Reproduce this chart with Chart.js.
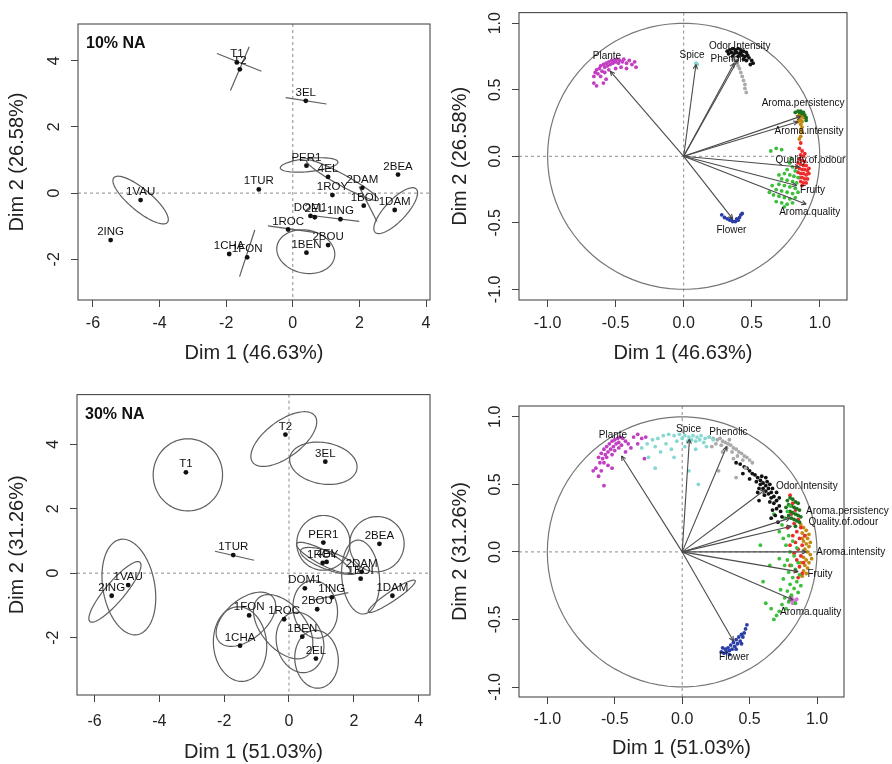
<!DOCTYPE html>
<html>
<head>
<meta charset="utf-8">
<script src="https://cdn.jsdelivr.net/npm/chart.js@4.4.1/dist/chart.umd.min.js"></script>
<style>
  body { margin: 0; background: #fff; width: 892px; height: 764px; position: relative; overflow: hidden; }
  .panel { position: absolute; width: 446px; height: 382px; }
</style>
</head>
<body>
<div class="panel" style="left:0;top:0"><canvas id="ind10" width="446" height="382"></canvas></div>
<div class="panel" style="left:446px;top:0"><canvas id="var10" width="446" height="382"></canvas></div>
<div class="panel" style="left:0;top:382px"><canvas id="ind30" width="446" height="382"></canvas></div>
<div class="panel" style="left:446px;top:382px"><canvas id="var30" width="446" height="382"></canvas></div>
<script>
const FONT = '"Liberation Sans", Arial, Helvetica, sans-serif';

// ---------- tick labels
const indXTicks = [-6, -4, -2, 0, 2, 4];
const indYTicks = [-2, 0, 2, 4];
const corTicks = [-1, -0.5, 0, 0.5, 1];

// ---------- individuals, 10% NA
const ind10Names = ['T1','T2','3EL','PER1','4EL','2DAM','2BEA','1ROY','1BOI','1DAM','1TUR','1VAU','2ING','DOM1','2EL','1ING','1ROC','2BOU','1BEN','1CHA','1FON'];
const ind10X = [-1.68, -1.59, 0.39, 0.41, 1.06, 2.09, 3.16, 1.19, 2.13, 3.06, -1.02, -4.57, -5.47, 0.53, 0.66, 1.43, -0.14, 1.06, 0.41, -1.91, -1.37];
const ind10Y = [3.95, 3.74, 2.79, 0.83, 0.49, 0.16, 0.56, -0.06, -0.38, -0.51, 0.11, -0.21, -1.42, -0.69, -0.73, -0.79, -1.10, -1.57, -1.80, -1.84, -1.94];
// confidence ellipses: centre x, centre y, semi axis a, semi axis b, angle (deg)
const ell10 = [
  [-1.61, 3.95, 0.72, 0, -22],
  [-1.59, 3.76, 0.72, 0, 67],
  [0.40, 2.79, 0.62, 0, -9],
  [-4.57, -0.21, 1.05, 0.33, -40],
  [0.49, 0.85, 0.87, 0.20, 6],
  [1.49, 0.39, 1.23, 0.17, -29],
  [2.26, -0.33, 0.59, 0, -63],
  [3.09, -0.53, 0.90, 0.32, 47],
  [1.25, -0.76, 0.75, 0, -7],
  [-0.05, -1.09, 0.70, 0, -8],
  [0.39, -1.77, 0.88, 0.65, -12],
  [-1.37, -1.82, 0.74, 0, 72]
];

// ---------- individuals, 30% NA
const ind30Names = ['T2','3EL','T1','PER1','2BEA','1TUR','1ROY','4EL','2DAM','1BOI','1VAU','2ING','DOM1','1ING','1DAM','2BOU','1FON','1ROC','1BEN','1CHA','2EL'];
const ind30X = [-0.11, 1.12, -3.18, 1.06, 2.79, -1.72, 1.04, 1.16, 2.24, 2.21, -4.96, -5.47, 0.49, 1.32, 3.19, 0.87, -1.23, -0.15, 0.41, -1.51, 0.83];
const ind30Y = [4.30, 3.46, 3.13, 0.95, 0.91, 0.56, 0.32, 0.35, 0.04, -0.17, -0.37, -0.70, -0.47, -0.75, -0.70, -1.12, -1.31, -1.43, -1.97, -2.25, -2.65];
const ell30 = [
  [-3.12, 3.05, 1.07, 1.12, 0],
  [-0.16, 4.16, 1.20, 0.56, 37],
  [1.06, 3.41, 1.05, 0.64, -10],
  [-1.68, 0.54, 0.62, 0, -13],
  [-4.94, -0.43, 1.50, 0.80, 100],
  [-5.37, -0.58, 1.20, 0.30, 50],
  [1.06, 0.94, 0.85, 0.82, 80],
  [2.71, 0.90, 0.86, 0.84, 70],
  [1.06, 0.48, 0.93, 0.22, -28],
  [1.25, 0.38, 0.95, 0.28, -20],
  [2.21, -0.12, 1.15, 0.58, 95],
  [3.17, -0.72, 0.87, 0.15, 34],
  [1.29, -0.72, 0.55, 0, 12],
  [0.81, -1.12, 0.90, 0.68, 100],
  [-1.33, -1.43, 1.08, 0.62, 40],
  [-0.18, -1.66, 1.17, 0.68, -50],
  [-1.51, -2.20, 1.16, 0.82, 95],
  [0.34, -2.15, 0.95, 0.72, 105],
  [0.85, -2.67, 0.90, 0.67, 95]
];

// ---------- variables
const varNames = ['Plante','Spice','Phenolic','Odor.Intensity','Aroma.persistency','Aroma.intensity','Quality.of.odour','Fruity','Aroma.quality','Flower'];
const var10X = [-0.54, 0.09, 0.37, 0.40, 0.86, 0.84, 0.85, 0.83, 0.90, 0.36];
const var10Y = [0.64, 0.69, 0.70, 0.73, 0.30, 0.26, -0.08, -0.22, -0.36, -0.47];
const lab10X = [-0.564, 0.061, 0.338, 0.412, 0.877, 0.921, 0.932, 0.947, 0.926, 0.351];
const lab10Y = [0.749, 0.762, 0.730, 0.828, 0.396, 0.185, -0.027, -0.254, -0.423, -0.555];
const var30X = [-0.45, 0.054, 0.33, 0.615, 0.80, 0.92, 0.81, 0.86, 0.82, 0.38];
const var30Y = [0.71, 0.835, 0.78, 0.46, 0.25, 0.00, 0.19, -0.146, -0.355, -0.66];
const lab30X = [-0.513, 0.047, 0.343, 0.924, 1.225, 1.25, 1.195, 1.022, 0.953, 0.385];
const lab30Y = [0.861, 0.911, 0.884, 0.484, 0.299, 0.0, 0.217, -0.165, -0.449, -0.78];

// bootstrap clouds, 10% NA
const c10Plante = [[-0.66,0.60],[-0.65,0.63],[-0.64,0.65],[-0.63,0.62],[-0.62,0.66],[-0.61,0.68],[-0.60,0.64],[-0.59,0.69],[-0.58,0.67],[-0.57,0.70],[-0.56,0.68],[-0.55,0.71],[-0.54,0.69],[-0.53,0.72],[-0.52,0.70],[-0.51,0.72],[-0.50,0.71],[-0.49,0.73],[-0.48,0.70],[-0.47,0.72],[-0.45,0.71],[-0.44,0.73],[-0.42,0.70],[-0.40,0.72],[-0.38,0.69],[-0.36,0.71],[-0.35,0.67],[-0.61,0.60],[-0.58,0.63],[-0.55,0.65],[-0.66,0.55],[-0.64,0.53],[-0.59,0.55],[-0.57,0.58],[-0.50,0.66],[-0.46,0.67],[-0.42,0.66]];
const c10Spice = [[0.09,0.70],[0.10,0.69]];
const c10Phenolic = [[0.38,0.70],[0.40,0.68],[0.41,0.66],[0.42,0.63],[0.43,0.60],[0.44,0.57],[0.45,0.54],[0.45,0.51],[0.46,0.48],[0.39,0.72],[0.36,0.73]];
const c10Odor = [[0.32,0.79],[0.34,0.80],[0.36,0.81],[0.38,0.80],[0.40,0.81],[0.42,0.80],[0.44,0.79],[0.46,0.78],[0.47,0.76],[0.48,0.74],[0.50,0.72],[0.51,0.70],[0.35,0.78],[0.37,0.77],[0.39,0.78],[0.41,0.77],[0.43,0.76],[0.45,0.75],[0.33,0.77],[0.36,0.75],[0.40,0.75],[0.44,0.73],[0.46,0.72],[0.49,0.69],[0.38,0.79],[0.42,0.78]];
const c10Persist = [[0.82,0.33],[0.84,0.34],[0.86,0.34],[0.88,0.33],[0.89,0.31],[0.90,0.29],[0.90,0.27],[0.85,0.33],[0.87,0.32]];
const c10Intens = [[0.84,0.30],[0.85,0.31],[0.86,0.32],[0.87,0.30],[0.85,0.28],[0.86,0.27],[0.87,0.26],[0.86,0.24],[0.87,0.22],[0.86,0.20],[0.87,0.18],[0.86,0.15],[0.85,0.13],[0.88,0.29],[0.84,0.26]];
const c10Quality = [[0.86,0.10],[0.85,0.06],[0.87,0.04],[0.86,0.01],[0.88,0.00],[0.85,-0.02],[0.87,-0.03],[0.89,-0.04],[0.84,-0.05],[0.86,-0.06],[0.88,-0.07],[0.90,-0.07],[0.85,-0.09],[0.87,-0.10],[0.89,-0.10],[0.91,-0.11],[0.84,-0.12],[0.86,-0.13],[0.88,-0.13],[0.90,-0.14],[0.92,-0.13],[0.85,-0.16],[0.87,-0.16],[0.89,-0.17],[0.91,-0.17],[0.86,-0.19],[0.88,-0.20],[0.90,-0.20],[0.87,-0.22],[0.83,-0.08],[0.92,-0.09],[0.89,0.02]];
const c10Fruity = [[0.68,0.06],[0.72,0.05],[0.64,0.04],[0.78,-0.05],[0.80,-0.08],[0.76,-0.10],[0.82,-0.11],[0.74,-0.13],[0.78,-0.14],[0.81,-0.15],[0.72,-0.17],[0.76,-0.18],[0.80,-0.19],[0.83,-0.20],[0.70,-0.21],[0.74,-0.22],[0.78,-0.23],[0.82,-0.24],[0.68,-0.25],[0.72,-0.26],[0.76,-0.27],[0.80,-0.28],[0.84,-0.27],[0.66,-0.29],[0.70,-0.30],[0.74,-0.31],[0.78,-0.32],[0.82,-0.31],[0.68,-0.34],[0.72,-0.35],[0.76,-0.36],[0.80,-0.35],[0.65,-0.22],[0.79,-0.02],[0.84,-0.16],[0.70,-0.14],[0.74,-0.38],[0.63,-0.27]];
const c10Flower = [[0.28,-0.44],[0.30,-0.46],[0.32,-0.47],[0.34,-0.48],[0.36,-0.49],[0.38,-0.49],[0.40,-0.48],[0.41,-0.46],[0.42,-0.44],[0.43,-0.43],[0.35,-0.47],[0.39,-0.47]];

// bootstrap clouds, 30% NA
const c30Plante = [[-0.62,0.70],[-0.60,0.73],[-0.58,0.76],[-0.56,0.78],[-0.54,0.80],[-0.52,0.82],[-0.50,0.83],[-0.48,0.84],[-0.46,0.85],[-0.44,0.84],[-0.42,0.82],[-0.59,0.69],[-0.57,0.72],[-0.55,0.74],[-0.53,0.76],[-0.51,0.78],[-0.49,0.80],[-0.47,0.81],[-0.45,0.79],[-0.56,0.70],[-0.52,0.72],[-0.50,0.75],[-0.47,0.77],[-0.61,0.66],[-0.58,0.66],[-0.64,0.62],[-0.66,0.60],[-0.60,0.60],[-0.55,0.64],[-0.62,0.56],[-0.52,0.62],[-0.58,0.49],[-0.40,0.80],[-0.36,0.85],[-0.33,0.87],[-0.30,0.84],[-0.27,0.85],[-0.38,0.77],[-0.33,0.80],[-0.42,0.74],[-0.28,0.69]];
const c30Spice = [[-0.30,0.77],[-0.26,0.80],[-0.22,0.83],[-0.18,0.84],[-0.14,0.86],[-0.10,0.87],[-0.06,0.86],[-0.02,0.87],[0.02,0.86],[0.05,0.85],[0.08,0.86],[0.11,0.85],[0.14,0.86],[0.17,0.84],[0.20,0.85],[0.23,0.83],[-0.20,0.78],[-0.12,0.80],[-0.04,0.82],[0.00,0.84],[0.04,0.82],[0.07,0.83],[0.10,0.82],[0.13,0.83],[0.16,0.81],[-0.08,0.76],[-0.16,0.74],[0.02,0.78],[-0.25,0.70],[0.10,0.76],[-0.06,0.70],[0.18,0.78],[0.05,0.60],[-0.20,0.62],[0.12,0.50]];
const c30Phenolic = [[0.20,0.85],[0.23,0.84],[0.26,0.83],[0.28,0.84],[0.30,0.82],[0.32,0.81],[0.34,0.80],[0.36,0.79],[0.38,0.77],[0.40,0.76],[0.42,0.74],[0.44,0.73],[0.46,0.71],[0.48,0.70],[0.50,0.68],[0.52,0.66],[0.25,0.80],[0.29,0.79],[0.33,0.77],[0.37,0.74],[0.41,0.71],[0.45,0.68],[0.30,0.74],[0.38,0.69],[0.22,0.78],[0.35,0.83],[0.27,0.60],[0.40,0.55],[0.47,0.62]];
const c30Odor = [[0.40,0.66],[0.43,0.65],[0.46,0.63],[0.48,0.62],[0.50,0.60],[0.52,0.58],[0.54,0.57],[0.56,0.55],[0.58,0.53],[0.60,0.51],[0.62,0.49],[0.64,0.47],[0.66,0.44],[0.68,0.41],[0.70,0.38],[0.72,0.34],[0.73,0.30],[0.74,0.26],[0.55,0.52],[0.58,0.50],[0.60,0.47],[0.62,0.45],[0.64,0.43],[0.66,0.40],[0.68,0.36],[0.70,0.32],[0.59,0.56],[0.63,0.52],[0.67,0.47],[0.70,0.44],[0.57,0.47],[0.61,0.42],[0.65,0.37],[0.69,0.27],[0.66,0.25],[0.71,0.22],[0.50,0.54],[0.45,0.58],[0.62,0.55],[0.65,0.50],[0.72,0.40],[0.57,0.38],[0.67,0.31],[0.56,0.44]];
const c30Persist = [[0.78,0.38],[0.80,0.40],[0.82,0.39],[0.84,0.37],[0.86,0.36],[0.79,0.35],[0.81,0.34],[0.83,0.33],[0.85,0.32],[0.87,0.31],[0.80,0.30],[0.82,0.29],[0.84,0.28],[0.86,0.27],[0.88,0.26],[0.81,0.25],[0.83,0.24],[0.85,0.23],[0.87,0.22],[0.84,0.19],[0.77,0.33],[0.79,0.27]];
const c30Quality = [[0.80,0.42],[0.82,0.36],[0.84,0.31],[0.81,0.28],[0.86,0.24],[0.83,0.21],[0.88,0.18],[0.85,0.15],[0.82,0.12],[0.87,0.10],[0.84,0.07],[0.89,0.05],[0.86,0.02],[0.83,-0.01],[0.88,-0.03],[0.85,-0.06],[0.90,-0.08],[0.87,-0.11],[0.84,-0.14],[0.89,-0.16],[0.86,-0.19],[0.80,0.05],[0.78,0.18],[0.91,0.12],[0.80,-0.10]];
const c30Intens = [[0.88,0.20],[0.90,0.18],[0.92,0.16],[0.89,0.14],[0.91,0.12],[0.93,0.10],[0.90,0.08],[0.92,0.06],[0.94,0.04],[0.91,0.02],[0.93,0.00],[0.95,-0.02],[0.90,-0.04],[0.92,-0.06],[0.94,-0.08],[0.91,-0.10],[0.93,-0.12],[0.90,-0.14],[0.92,-0.16],[0.89,-0.18],[0.94,0.13],[0.95,0.07],[0.96,-0.05],[0.89,0.10],[0.88,-0.08]];
const c30Fruity = [[0.80,0.34],[0.78,0.30],[0.76,0.25],[0.74,0.20],[0.72,0.15],[0.79,0.12],[0.82,0.08],[0.77,0.05],[0.85,0.03],[0.80,0.00],[0.83,-0.03],[0.78,-0.06],[0.86,-0.08],[0.81,-0.10],[0.84,-0.13],[0.79,-0.15],[0.87,-0.17],[0.82,-0.19],[0.85,-0.22],[0.80,-0.24],[0.83,-0.27],[0.78,-0.29],[0.81,-0.32],[0.76,-0.34],[0.79,-0.37],[0.74,-0.39],[0.77,-0.42],[0.72,-0.44],[0.70,-0.47],[0.68,-0.50],[0.66,-0.42],[0.62,-0.38],[0.60,-0.22],[0.65,-0.10],[0.58,0.05],[0.68,0.28],[0.70,0.38],[0.75,-0.20],[0.73,-0.28],[0.76,-0.10],[0.88,-0.25],[0.86,-0.30],[0.84,-0.38],[0.75,0.10],[0.72,-0.05]];
const c30AromaQ = [[0.80,-0.34],[0.81,-0.36],[0.82,-0.35],[0.83,-0.37],[0.84,-0.36],[0.82,-0.38],[0.85,-0.35],[0.81,-0.33]];
const c30Flower = [[0.29,-0.74],[0.31,-0.75],[0.33,-0.74],[0.35,-0.73],[0.37,-0.72],[0.39,-0.70],[0.41,-0.68],[0.43,-0.66],[0.45,-0.63],[0.46,-0.60],[0.47,-0.57],[0.48,-0.54],[0.32,-0.72],[0.34,-0.71],[0.36,-0.69],[0.38,-0.67],[0.40,-0.65],[0.42,-0.63],[0.44,-0.61],[0.30,-0.71],[0.35,-0.76],[0.40,-0.72],[0.44,-0.68]];

const cloudColors = {
  Plante: '#c13fc1', Spice: '#86d9d2', Phenolic: '#aaaaaa', Odor: '#111111',
  Persist: '#1c741c', Intens: '#c48a10', Quality: '#ee2b2b', Fruity: '#3dbf3d',
  AromaQ: '#d67ad6', Flower: '#2b3ea6'
};

// ---------- decorations: zero lines, ellipses, circle, box, labels
const decor = {
  id: 'decor',
  beforeDatasetsDraw(chart, args, o) {
    const { ctx, chartArea: a, scales: { x, y } } = chart;
    ctx.save();
    ctx.strokeStyle = '#8c8c8c';
    ctx.lineWidth = 1;
    ctx.setLineDash([3, 3]);
    const x0 = x.getPixelForValue(0), y0 = y.getPixelForValue(0);
    ctx.beginPath();
    ctx.moveTo(x0, a.top); ctx.lineTo(x0, a.bottom);
    ctx.moveTo(a.left, y0); ctx.lineTo(a.right, y0);
    ctx.stroke();
    ctx.setLineDash([]);

    const ells = (o.ellipses || []).slice();
    if (o.circle) ells.push([0, 0, 1, 1, 0]);
    ctx.strokeStyle = o.circle ? '#777' : '#5e5e5e';
    ctx.lineWidth = 1.2;
    ells.forEach(([cx, cy, ea, eb, ang]) => {
      const t = ang * Math.PI / 180;
      ctx.beginPath();
      const steps = eb === 0 ? 1 : 90;
      for (let i = 0; i <= steps; i++) {
        const s = eb === 0 ? i * Math.PI : i / steps * 2 * Math.PI;
        const ux = ea * Math.cos(s) * Math.cos(t) - eb * Math.sin(s) * Math.sin(t);
        const uy = ea * Math.cos(s) * Math.sin(t) + eb * Math.sin(s) * Math.cos(t);
        const px = x.getPixelForValue(cx + ux), py = y.getPixelForValue(cy + uy);
        if (i === 0) ctx.moveTo(px, py); else ctx.lineTo(px, py);
      }
      if (eb !== 0) ctx.closePath();
      ctx.stroke();
    });
    ctx.restore();
  },
  afterDatasetsDraw(chart, args, o) {
    if (!o.arrows) return;
    const { ctx, scales: { x, y } } = chart;
    ctx.save();
    ctx.strokeStyle = '#444';
    ctx.lineWidth = 1.1;
    const x0 = x.getPixelForValue(0), y0 = y.getPixelForValue(0);
    o.arrows.xs.forEach((vx, i) => {
      const px = x.getPixelForValue(vx), py = y.getPixelForValue(o.arrows.ys[i]);
      const ang = Math.atan2(py - y0, px - x0);
      ctx.beginPath();
      [0.45, -0.45].forEach(d => {
        ctx.moveTo(px, py);
        ctx.lineTo(px - 5 * Math.cos(ang + d), py - 5 * Math.sin(ang + d));
      });
      ctx.stroke();
    });
    ctx.restore();
  },
  afterDraw(chart, args, o) {
    const { ctx, chartArea: a, scales: { x, y } } = chart;
    ctx.save();
    ctx.strokeStyle = '#4a4a4a';
    ctx.lineWidth = 1.1;
    ctx.strokeRect(a.left, a.top, a.right - a.left, a.bottom - a.top);

    // vertical (R style) y tick labels
    ctx.fillStyle = '#222';
    ctx.font = '16px ' + FONT;
    ctx.textAlign = 'center';
    ctx.textBaseline = 'middle';
    y.ticks.forEach(t => {
      ctx.save();
      ctx.translate(a.left - 23, y.getPixelForValue(t.value));
      ctx.rotate(-Math.PI / 2);
      ctx.fillText(t.label, 0, 0);
      ctx.restore();
    });

    if (o.tag) {
      ctx.font = 'bold 16px ' + FONT;
      ctx.textAlign = 'left';
      ctx.fillStyle = '#111';
      ctx.fillText(o.tag, a.left + 8, a.top + 20);
    }

    if (o.labels) {
      const L = o.labels;
      ctx.font = L.size + 'px ' + FONT;
      ctx.fillStyle = '#111';
      ctx.textAlign = 'center';
      ctx.textBaseline = L.above ? 'alphabetic' : 'middle';
      L.names.forEach((n, i) => {
        const px = x.getPixelForValue(L.xs[i]), py = y.getPixelForValue(L.ys[i]);
        ctx.fillText(n, px, L.above ? py - 5 : py);
      });
    }
    ctx.restore();
  }
};

function pts(xs, ys) { return xs.map((v, i) => ({ x: v, y: ys[i] })); }
function arr(a) { return a.map(p => ({ x: p[0], y: p[1] })); }

function makeScales(xr, yr, xt, yt, fmt, xTitle, yTitle, dims) {
  return {
    x: {
      type: 'linear', min: xr[0], max: xr[1],
      afterBuildTicks: s => { s.ticks = xt.map(v => ({ value: v })); },
      afterFit: s => { s.height = dims.xh; },
      grid: { drawOnChartArea: false, drawTicks: true, tickLength: 7, color: '#444' },
      border: { display: false },
      ticks: { callback: fmt, color: '#222', font: { family: FONT, size: 16 }, padding: dims.tp, maxRotation: 0 },
      title: { display: true, text: xTitle, color: '#222', font: { family: FONT, size: 20 }, padding: { top: 0, bottom: dims.xtp } }
    },
    y: {
      type: 'linear', min: yr[0], max: yr[1],
      afterBuildTicks: s => { s.ticks = yt.map(v => ({ value: v })); },
      afterFit: s => { s.width = dims.yw; },
      grid: { drawOnChartArea: false, drawTicks: true, tickLength: 7, color: '#444' },
      border: { display: false },
      ticks: { callback: fmt, color: 'rgba(0,0,0,0)', font: { family: FONT, size: 16 } },
      title: { display: true, text: yTitle, color: '#222', font: { family: FONT, size: 20 }, padding: { top: dims.ytp, bottom: 0 } }
    }
  };
}

const base = {
  responsive: false, animation: false, events: [],
  plugins: { legend: { display: false }, tooltip: { enabled: false } }
};

function indChart(id, names, xs, ys, ells, tag, xr, yr, xTitle, yTitle, pad, dims) {
  new Chart(document.getElementById(id), {
    type: 'scatter',
    data: { datasets: [{ data: pts(xs, ys), backgroundColor: '#111', borderWidth: 0, pointRadius: 2.4 }] },
    options: Object.assign({}, base, {
      layout: { padding: pad },
      scales: makeScales(xr, yr, indXTicks, indYTicks, v => String(v), xTitle, yTitle, dims),
      plugins: Object.assign({}, base.plugins, {
        decor: { ellipses: ells, tag: tag, labels: { names, xs, ys, size: 11.5, above: true } }
      })
    }),
    plugins: [decor]
  });
}

function varChart(id, vx, vy, lx, ly, clouds, xr, yr, xTitle, yTitle, pad, dims) {
  const sets = varNames.map((n, i) => ({
    type: 'line', data: [{ x: 0, y: 0 }, { x: vx[i], y: vy[i] }],
    borderColor: '#4a4a4a', borderWidth: 1.1, pointRadius: 0, order: 0
  }));
  clouds.forEach(([cl, col]) => sets.push({
    data: arr(cl), backgroundColor: col, borderWidth: 0, pointRadius: 1.9, order: 1
  }));
  new Chart(document.getElementById(id), {
    type: 'scatter',
    data: { datasets: sets },
    options: Object.assign({}, base, {
      layout: { padding: pad },
      scales: makeScales(xr, yr, corTicks, corTicks, v => v.toFixed(1), xTitle, yTitle, dims),
      plugins: Object.assign({}, base.plugins, {
        decor: { circle: true, arrows: { xs: vx, ys: vy }, labels: { names: varNames, xs: lx, ys: ly, size: 10, above: false } }
      })
    }),
    plugins: [decor]
  });
}

indChart('ind10', ind10Names, ind10X, ind10Y, ell10, '10% NA', [-6.45, 4.12], [-3.23, 5.11],
  'Dim 1 (46.63%)', 'Dim 2 (26.58%)', { left: 0, top: 24, right: 16, bottom: 0 },
  { yw: 78, xh: 82, tp: 7, xtp: 17, ytp: 5 });

varChart('var10', var10X, var10Y, lab10X, lab10Y, [
  [c10Plante, cloudColors.Plante], [c10Spice, cloudColors.Spice], [c10Phenolic, cloudColors.Phenolic],
  [c10Odor, cloudColors.Odor], [c10Persist, cloudColors.Persist], [c10Intens, cloudColors.Intens],
  [c10Fruity, cloudColors.Fruity], [c10Quality, cloudColors.Quality], [c10Flower, cloudColors.Flower]
], [-1.21, 1.2], [-1.08, 1.08], 'Dim 1 (46.63%)', 'Dim 2 (26.58%)',
  { left: 0, top: 6, right: 45, bottom: 0 }, { yw: 73, xh: 82, tp: 7, xtp: 17, ytp: 2 });

indChart('ind30', ind30Names, ind30X, ind30Y, ell30, '30% NA', [-6.54, 4.35], [-3.78, 5.54],
  'Dim 1 (51.03%)', 'Dim 2 (31.26%)', { left: 0, top: 12, right: 16, bottom: 0 },
  { yw: 77, xh: 69, tp: 10, xtp: 0, ytp: 5 });

varChart('var30', var30X, var30Y, lab30X, lab30Y, [
  [c30Plante, cloudColors.Plante], [c30Spice, cloudColors.Spice], [c30Phenolic, cloudColors.Phenolic],
  [c30Odor, cloudColors.Odor], [c30Fruity, cloudColors.Fruity], [c30Persist, cloudColors.Persist],
  [c30Quality, cloudColors.Quality], [c30Intens, cloudColors.Intens], [c30AromaQ, cloudColors.AromaQ],
  [c30Flower, cloudColors.Flower]
], [-1.21, 1.2], [-1.074, 1.08], 'Dim 1 (51.03%)', 'Dim 2 (31.26%)',
  { left: 0, top: 24, right: 48, bottom: 0 }, { yw: 73, xh: 67, tp: 6, xtp: 4, ytp: 2 });
</script>
</body>
</html>
